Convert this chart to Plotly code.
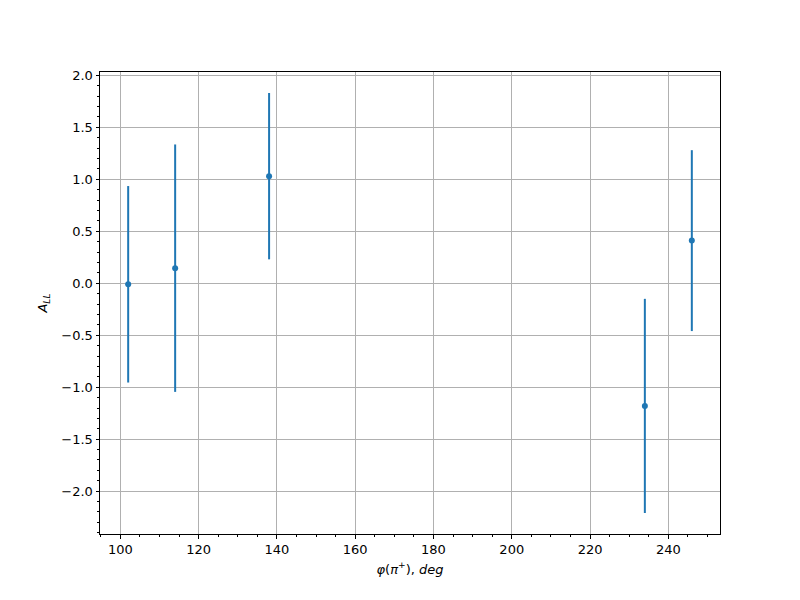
import plotly.graph_objects as go

phi_deg = [102, 114, 138, 234, 246]
a_ll = [-0.01, 0.145, 1.03, -1.18, 0.41]
a_ll_err = [0.945, 1.19, 0.80, 1.03, 0.87]

x_ticks = [100, 120, 140, 160, 180, 200, 220, 240]
y_ticks = [-2.0, -1.5, -1.0, -0.5, 0.0, 0.5, 1.0, 1.5, 2.0]

color = "#1f77b4"
font = dict(family="DejaVu Sans", size=13, color="black")

fig = go.Figure()
fig.add_trace(go.Scatter(
    x=phi_deg, y=a_ll, mode="markers",
    marker=dict(color=color, size=6),
    error_y=dict(type="data", array=a_ll_err, symmetric=True,
                 color=color, thickness=2, width=0),
    showlegend=False,
))

axis_common = dict(
    showline=True, linecolor="black", linewidth=1, mirror=True,
    ticks="outside", ticklen=3.5, tickwidth=1, tickcolor="black",
    showgrid=True, gridcolor="#b0b0b0", gridwidth=0.8,
    zeroline=False, tickfont=font,
)

fig.update_xaxes(
    **axis_common,
    range=[94.8, 253.2],
    tickvals=x_ticks, ticktext=[str(v) for v in x_ticks],
    minor=dict(dtick=5, tick0=0, ticks="outside", ticklen=2, tickcolor="black", showgrid=False),
    title=dict(text="<i>φ</i>(<i>π</i><sup>+</sup>), <i>deg</i>", font=font, standoff=8),
)
fig.update_yaxes(
    **axis_common,
    range=[-2.412, 2.032],
    tickvals=y_ticks, ticktext=[f"{v:.1f}".replace("-", "−") for v in y_ticks],
    minor=dict(dtick=0.1, tick0=0, ticks="outside", ticklen=2, tickcolor="black", showgrid=False),
    title=dict(text="<i>A</i><sub><i>LL</i></sub>", font=font, standoff=10),
)

fig.update_layout(
    width=800, height=600,
    margin=dict(l=92, r=88, t=64, b=74),
    plot_bgcolor="white", paper_bgcolor="white",
    font=font,
)

fig.write_html("out.html")
